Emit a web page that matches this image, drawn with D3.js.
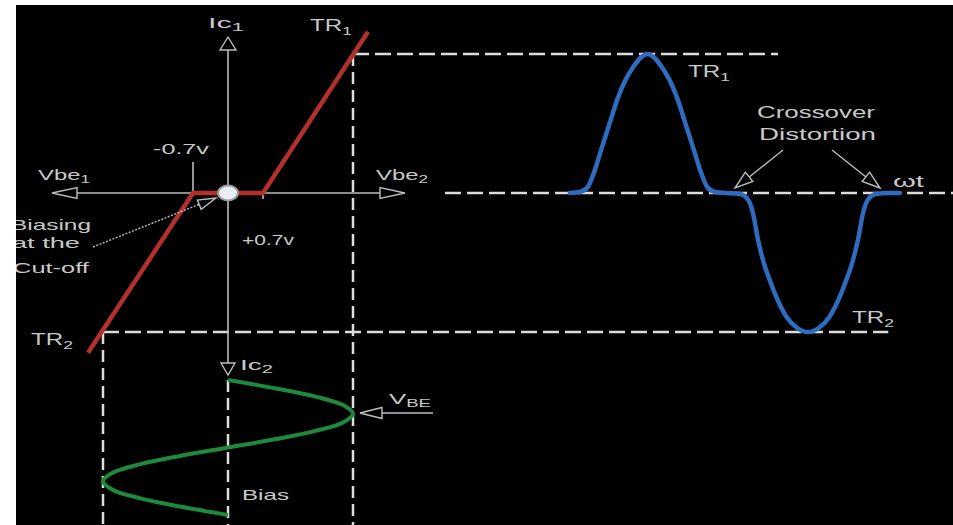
<!DOCTYPE html>
<html><head><meta charset="utf-8">
<script src="https://cdn.jsdelivr.net/npm/d3@7"></script>
<style>html,body{margin:0;padding:0;background:#fff;overflow:hidden}</style>
</head><body>
<svg id="c" width="953" height="525"></svg>
<script>
// ---------- data ----------
// transfer characteristic (Vbe in volts, Ic normalised)
const redVbe = [-2.8, -0.7, 0.7, 2.8];
const redIc  = [-1.15, 0, 0, 1.16];
// input signal Vbe vs phase (degrees)
const greenPhase = [0, 22.5, 45, 67.5, 90, 112.5, 135, 157.5, 180, 202.5, 225, 247.5, 270, 292.5, 315, 337.5, 360];
const greenVbe   = [0, 0.96, 1.77, 2.31, 2.5, 2.31, 1.77, 0.96, 0, -0.96, -1.77, -2.31, -2.5, -2.31, -1.77, -0.96, 0];
// output current vs phase (degrees) with crossover distortion
const bluePhase = [3, 14, 23, 29, 38, 47, 56, 65, 74, 82, 90, 98, 106, 115, 124, 133, 142, 151, 157, 166, 179,
                   194, 203, 208, 214, 219.5, 227, 236, 246, 258, 270, 282, 294, 304, 313, 320.5, 326, 332, 337, 346, 360, 373];
const blueIc    = [0, 0.007, 0.043, 0.13, 0.31, 0.49, 0.67, 0.81, 0.906, 0.971, 1.0, 0.971, 0.906, 0.81, 0.67, 0.49, 0.31, 0.13, 0.043, 0.007, 0,
                   -0.007, -0.05, -0.137, -0.338, -0.482, -0.626, -0.77, -0.892, -0.971, -1.0, -0.971, -0.892, -0.77, -0.626, -0.482, -0.338, -0.137, -0.05, -0.007, 0, 0];

// ---------- scales ----------
const vScale   = d3.scaleLinear().domain([-2.5, 2.5]).range([103, 353]);
const icScale  = d3.scaleLinear().domain([-1, 1]).range([332, 54]);
const inPhase  = d3.scaleLinear().domain([0, 360]).range([380, 515]);
const outPhase = d3.scaleLinear().domain([0, 360]).range([567.25, 888.25]);

const svg = d3.select("#c");
const TXT = "#c9c9c9", AX = "#bdbdbd", DASH = "#dcdcdc";

svg.append("rect").attr("x",16).attr("y",5).attr("width",937).attr("height",520).attr("fill","#000");

// ---------- dashed guide lines ----------
const x0 = vScale(0), y0 = icScale(0);
function dline(x1,y1,x2,y2,da){
  svg.append("line").attr("x1",x1).attr("y1",y1).attr("x2",x2).attr("y2",y2)
    .attr("stroke",DASH).attr("stroke-width",2.5).attr("stroke-dasharray",da);
}
dline(vScale(2.5), icScale(1), 778, icScale(1), "16,6");
dline(445, y0, 953, y0, "16,6");
dline(vScale(-2.5), icScale(-1), outPhase(360), icScale(-1), "16,6");
dline(vScale(2.5), icScale(1), vScale(2.5), 525, "12,6");
dline(vScale(-2.5), icScale(-1), vScale(-2.5), 525, "12,6");
dline(x0, inPhase(0), x0, 525, "12,6");

// ---------- axes ----------
function sline(x1,y1,x2,y2,w,c,da){
  const l = svg.append("line").attr("x1",x1).attr("y1",y1).attr("x2",x2).attr("y2",y2)
    .attr("stroke",c||AX).attr("stroke-width",w||1.6);
  if(da) l.attr("stroke-dasharray",da);
  return l;
}
function arrowHead(tx,ty,fx,fy,len,hw,c){
  const a = Math.atan2(ty-fy, tx-fx);
  const bx = tx - len*Math.cos(a), by = ty - len*Math.sin(a);
  const px = -Math.sin(a)*hw, py = Math.cos(a)*hw;
  svg.append("path")
    .attr("d",`M${tx},${ty}L${bx+px},${by+py}L${bx-px},${by-py}Z`)
    .attr("fill","#000").attr("stroke",c||AX).attr("stroke-width",1.4).attr("stroke-linejoin","miter");
}
// Vbe axis
sline(77, y0, 380, y0);
arrowHead(52, y0, 77, y0, 25, 5.5);
arrowHead(405, y0, 380, y0, 25, 5.5);
// Ic axis
sline(x0, 50, x0, 363);
arrowHead(x0, 37, x0, 50, 13, 8);
arrowHead(x0, 375, x0, 363, 12, 7);
// -0.7 tick and +0.7 tick
sline(vScale(-0.7), 162, vScale(-0.7), y0);
sline(vScale(0.7), y0, vScale(0.7), y0+6);

// ---------- curves ----------
const redData = redVbe.map((v,i)=>({v, ic: redIc[i]}));
svg.append("path").datum(redData)
  .attr("d", d3.line().x(d=>vScale(d.v)).y(d=>icScale(d.ic)))
  .attr("fill","none").attr("stroke","#b3302c").attr("stroke-width",4.5).attr("stroke-linejoin","miter");

const greenData = greenPhase.map((p,i)=>({p, v: greenVbe[i]}));
svg.append("path").datum(greenData)
  .attr("d", d3.line().x(d=>vScale(d.v)).y(d=>inPhase(d.p)).curve(d3.curveCatmullRom))
  .attr("fill","none").attr("stroke","#1e8a3c").attr("stroke-width",4);

const blueData = bluePhase.map((p,i)=>({p, ic: blueIc[i]}));
svg.append("path").datum(blueData)
  .attr("d", d3.line().x(d=>outPhase(d.p)).y(d=>icScale(d.ic)).curve(d3.curveMonotoneX))
  .attr("fill","none").attr("stroke","#2f6cc0").attr("stroke-width",4.5).attr("stroke-linecap","round");

// bias point
svg.append("ellipse").attr("cx",x0).attr("cy",y0).attr("rx",10).attr("ry",7.5)
  .attr("fill","#e9eef6").attr("stroke","#9a9a9a").attr("stroke-width",2);

// ---------- pointer arrows ----------
sline(93, 247, 200, 204, 1.4, "#bdbdbd", "2,1.5");
arrowHead(216, 198, 93, 247, 18, 5);
sline(433, 413, 382, 413, 1.6);
arrowHead(360, 413, 433, 413, 22, 5.5);
sline(783, 150, 748, 178, 1.4);
arrowHead(735, 188, 783, 150, 18, 6);
sline(832, 150, 866, 177, 1.4);
arrowHead(880, 188, 832, 150, 18, 6);

// ---------- labels ----------
const labels = [
  // text, subscript, left x, baseline, target width, size
  ["Ic", "1", 208, 28, 36, 14],
  ["TR", "1", 310, 31, 42, 16],
  ["-0.7v", "", 153, 154, 56, 14],
  ["Vbe", "1", 38, 180, 52, 14],
  ["Vbe", "2", 376, 180, 52, 14],
  ["+0.7v", "", 242, 245, 52, 14],
  ["Biasing", "", 11, 230, 80, 15],
  ["at the", "", 12, 248, 68, 15],
  ["Cut-off", "", 13, 273, 76, 15],
  ["TR", "2", 31, 345, 42, 16],
  ["Ic", "2", 240, 370, 33, 14],
  ["V", "BE", 389, 404, 42, 14],
  ["Bias", "", 242, 500, 47, 14],
  ["TR", "1", 688, 77, 42, 16],
  ["Crossover", "", 757, 118, 118, 16],
  ["Distortion", "", 759, 140, 117, 16],
  ["\u03c9t", "", 893, 187, 31, 16],
  ["TR", "2", 852, 323, 42, 16]
];
labels.forEach(([t, s, x, y, w, fs]) => {
  const g = svg.append("g");
  const tx = g.append("text").attr("x",0).attr("y",0)
    .attr("font-family","'Liberation Sans', Arial, sans-serif").attr("font-size",fs).attr("fill",TXT);
  tx.append("tspan").text(t);
  if (s) tx.append("tspan").attr("font-size",fs*0.72).attr("dy",fs*0.22).text(s);
  const bw = tx.node().getComputedTextLength();
  g.attr("transform",`translate(${x},${y}) scale(${w/bw},1)`);
});

// white frame strips
svg.append("rect").attr("x",0).attr("y",0).attr("width",16).attr("height",525).attr("fill","#fff");
svg.append("rect").attr("x",0).attr("y",0).attr("width",953).attr("height",5).attr("fill","#fff");
</script>
</body></html>
